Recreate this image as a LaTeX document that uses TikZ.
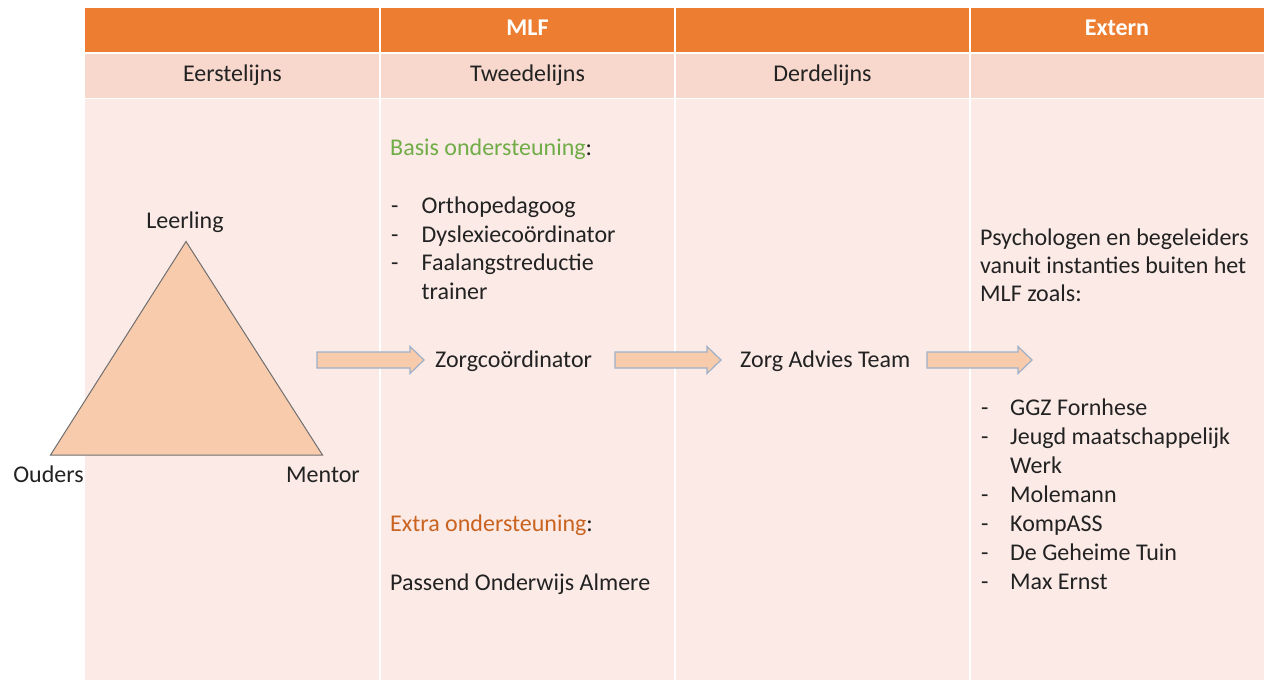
\documentclass[tikz,border=0pt]{standalone}
\usepackage{fontspec}
\setmainfont{Carlito}
\definecolor{hdr}{HTML}{ED7D31}
\definecolor{rowtwo}{HTML}{F8D8CD}
\definecolor{bodycol}{HTML}{FBEAE6}
\definecolor{basisgreen}{HTML}{70AD47}
\definecolor{extraor}{HTML}{C9631F}
\definecolor{txt}{HTML}{222222}
\definecolor{arrfill}{HTML}{F8CBAD}
\definecolor{arrline}{HTML}{9FB0C8}
\definecolor{triline}{HTML}{6F6F6F}
\tikzset{
  lbl/.style={inner sep=0pt, text=txt, font=\fontsize{24}{29}\selectfont, anchor=base west},
  clbl/.style={inner sep=0pt, text=txt, font=\fontsize{24}{29}\selectfont, anchor=base},
  hd/.style={inner sep=0pt, text=white, font=\fontsize{24}{29}\selectfont\bfseries, anchor=base},
  blockarrow/.style={fill=arrfill, draw=arrline, line width=1.2pt, line join=miter},
  tri/.style={fill=arrfill, draw=triline, line width=1pt, line join=miter}
}
\newcommand{\myblockarrow}[3]{%
  \draw[blockarrow] (#1,#3-8) -- (#2-14,#3-8) -- (#2-14,#3-13.5) -- (#2,#3) -- (#2-14,#3+13.5) -- (#2-14,#3+8) -- (#1,#3+8) -- cycle;}
\begin{document}
\begin{tikzpicture}[x=1pt,y=-1pt]
\useasboundingbox (0,0) rectangle (1264,680);
\fill[white] (0,0) rectangle (1264,680);
% table cells
\fill[hdr] (85,8) rectangle (1264,51.5);
\fill[rowtwo] (85,53.5) rectangle (1264,97.5);
\fill[bodycol] (85,99) rectangle (1264,680);
\foreach \xx in {380,675,970} {
  \draw[white, line width=1.5pt] (\xx,8) -- (\xx,680);
}
% header texts
\node[hd] (mlf) at (527.5,35) {MLF};
\node[hd] (extern) at (1117,35) {Extern};
\node[clbl] (eerste) at (232.5,81) {Eerstelijns};
\node[clbl] (tweede) at (527.5,81) {Tweedelijns};
\node[clbl] (derde) at (822.5,81) {Derdelijns};
% triangle
\coordinate (apex) at (186,241.5);
\coordinate (bl) at (50.5,455);
\coordinate (br) at (322.5,455);
\draw[tri] (apex) -- (bl) -- (br) -- cycle;
\node[clbl] (leerling) at (185,228.5) {Leerling};
\node[clbl] (ouders) at (48.5,482) {Ouders};
\node[clbl] (mentor) at (323,482) {Mentor};
% tweedelijns
\node[lbl, text=basisgreen] (basis) at (390,155) {Basis ondersteuning\textcolor{txt}{:}};
\foreach \yy/\tt/\nm in {213/Orthopedagoog/orth, 242/Dyslexiecoördinator/dysl, 270.5/Faalangstreductie/faal} {
  \node[lbl] (d\nm) at (391,\yy) {-};
  \node[lbl] (\nm) at (421.5,\yy) {\tt};
}
\node[lbl] (trainer) at (421.5,299) {trainer};
\node[lbl] (zc) at (435,367) {Zorgcoördinator};
\node[lbl, text=extraor] (extra) at (390,531.5) {Extra ondersteuning\textcolor{txt}{:}};
\node[lbl] (passend) at (390,590) {Passend Onderwijs Almere};
% derdelijns
\node[lbl] (zat) at (740,367) {Zorg Advies Team};
% extern
\node[lbl] (psy1) at (980,245) {Psychologen en begeleiders};
\node[lbl] (psy2) at (980,273) {vanuit instanties buiten het};
\node[lbl] (psy3) at (980,301) {MLF zoals:};
\foreach \yy/\tt/\nm in {415/GGZ Fornhese/ggz, 444/Jeugd maatschappelijk/jeugd, 502/Molemann/mole, 531/KompASS/komp, 560/De Geheime Tuin/tuin, 589/Max Ernst/max} {
  \node[lbl] (d\nm) at (981,\yy) {-};
  \node[lbl] (\nm) at (1010,\yy) {\tt};
}
\node[lbl] (werk) at (1010,473) {Werk};
% arrows
\myblockarrow{317}{424}{360}
\myblockarrow{615}{721}{360}
\myblockarrow{927}{1032}{360}
\end{tikzpicture}
\end{document}
